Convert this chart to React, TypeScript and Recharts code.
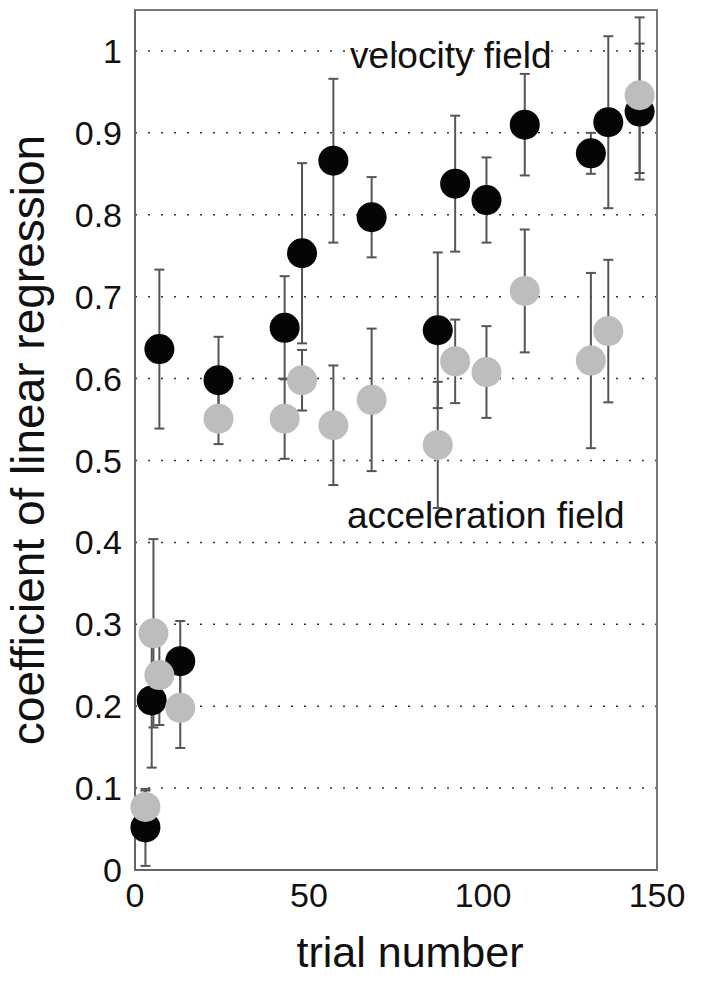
import React from 'react';
import {
  ScatterChart, Scatter, XAxis, YAxis, CartesianGrid, ErrorBar, ReferenceArea, ReferenceDot,
} from 'recharts';

const velTrials = [3, 4.8, 13, 7, 24, 43, 48, 57, 68, 87, 92, 101, 112, 131, 136, 145];
const velValues = [0.052, 0.207, 0.255, 0.636, 0.598, 0.662, 0.753, 0.866, 0.797, 0.659, 0.838, 0.818, 0.91, 0.875, 0.913, 0.926];
const velErrors = [0.047, 0.082, 0.049, 0.097, 0.053, 0.063, 0.11, 0.1, 0.049, 0.095, 0.083, 0.052, 0.062, 0.025, 0.105, 0.083];

const accTrials = [3, 5.3, 7, 13, 24, 43, 48, 57, 68, 87, 92, 101, 112, 131, 136, 145];
const accValues = [0.077, 0.289, 0.238, 0.198, 0.551, 0.551, 0.598, 0.543, 0.574, 0.519, 0.621, 0.608, 0.707, 0.622, 0.658, 0.946];
const accErrors = [0.02, 0.115, 0.061, 0.049, 0.031, 0.049, 0.037, 0.073, 0.087, 0.077, 0.051, 0.056, 0.075, 0.107, 0.087, 0.095];

const xTicks = [0, 50, 100, 150];
const yTicks = [0, 0.1, 0.2, 0.3, 0.4, 0.5, 0.6, 0.7, 0.8, 0.9, 1];

const annotations = [
  { label: 'velocity field', trial: 61.8, value: 0.979 },
  { label: 'acceleration field', trial: 60.9, value: 0.417 },
];

const velData = velTrials.map((t, i) => ({ trial: t, value: velValues[i], err: velErrors[i] }));
const accData = accTrials.map((t, i) => ({ trial: t, value: accValues[i], err: accErrors[i] }));

const FONT = '"Liberation Sans", Arial, sans-serif';

const NoShape = () => <g />;
const BlackDot = (p: any) => <circle cx={p.cx} cy={p.cy} r={15} fill="#050505" />;
const GrayDot = (p: any) => <circle cx={p.cx} cy={p.cy} r={15} fill="#bdbdbd" />;

const YLabel = () => (
  <text
    x={28}
    y={440}
    transform="rotate(-90 28 440)"
    textAnchor="middle"
    dominantBaseline="central"
    fontFamily={FONT}
    fontSize={46}
    fill="#111"
  >
    coefficient of linear regression
  </text>
);

const XLabel = () => (
  <text x={410} y={967} textAnchor="middle" fontFamily={FONT} fontSize={43} fill="#111">
    trial number
  </text>
);

export default function App() {
  return (
    <div style={{ position: 'absolute', left: 0, top: 0, background: '#fff' }}>
      <ScatterChart width={704} height={982} margin={{ top: 10, right: 47, bottom: 0, left: 0 }}>
        <CartesianGrid horizontal vertical={false} stroke="#333" strokeDasharray="2 11" strokeWidth={1.5} />
        <XAxis
          type="number"
          dataKey="trial"
          domain={[0, 150]}
          ticks={xTicks}
          height={112}
          tickLine={false}
          tickMargin={7}
          axisLine={{ stroke: '#666', strokeWidth: 2 }}
          tick={{ fontFamily: FONT, fontSize: 34, fill: '#111' }}
          label={<XLabel />}
        />
        <YAxis
          type="number"
          dataKey="value"
          domain={[0, 1.05]}
          ticks={yTicks}
          width={135}
          tickLine={false}
          tickMargin={7}
          axisLine={{ stroke: '#666', strokeWidth: 2 }}
          tick={{ fontFamily: FONT, fontSize: 34, fill: '#111' }}
          tickFormatter={(v: number) => String(v)}
          label={<YLabel />}
        />
        <ReferenceArea x1={0} x2={150} y1={0} y2={1.05} stroke="#777" strokeWidth={2} fill="none" fillOpacity={0} />
        <Scatter data={accData} shape={NoShape} isAnimationActive={false}>
          <ErrorBar dataKey="err" direction="y" width={5} stroke="#555" strokeWidth={2} />
        </Scatter>
        <Scatter data={velData} shape={NoShape} isAnimationActive={false}>
          <ErrorBar dataKey="err" direction="y" width={5} stroke="#555" strokeWidth={2} />
        </Scatter>
        <Scatter data={velData} shape={BlackDot} isAnimationActive={false} />
        <Scatter data={accData} shape={GrayDot} isAnimationActive={false} />
        {annotations.map((a) => (
          <ReferenceDot
            key={a.label}
            x={a.trial}
            y={a.value}
            r={0}
            shape={(p: any) => (
              <text x={p.cx} y={p.cy} fontFamily={FONT} fontSize={37} fill="#111">
                {a.label}
              </text>
            )}
          />
        ))}
      </ScatterChart>
    </div>
  );
}
